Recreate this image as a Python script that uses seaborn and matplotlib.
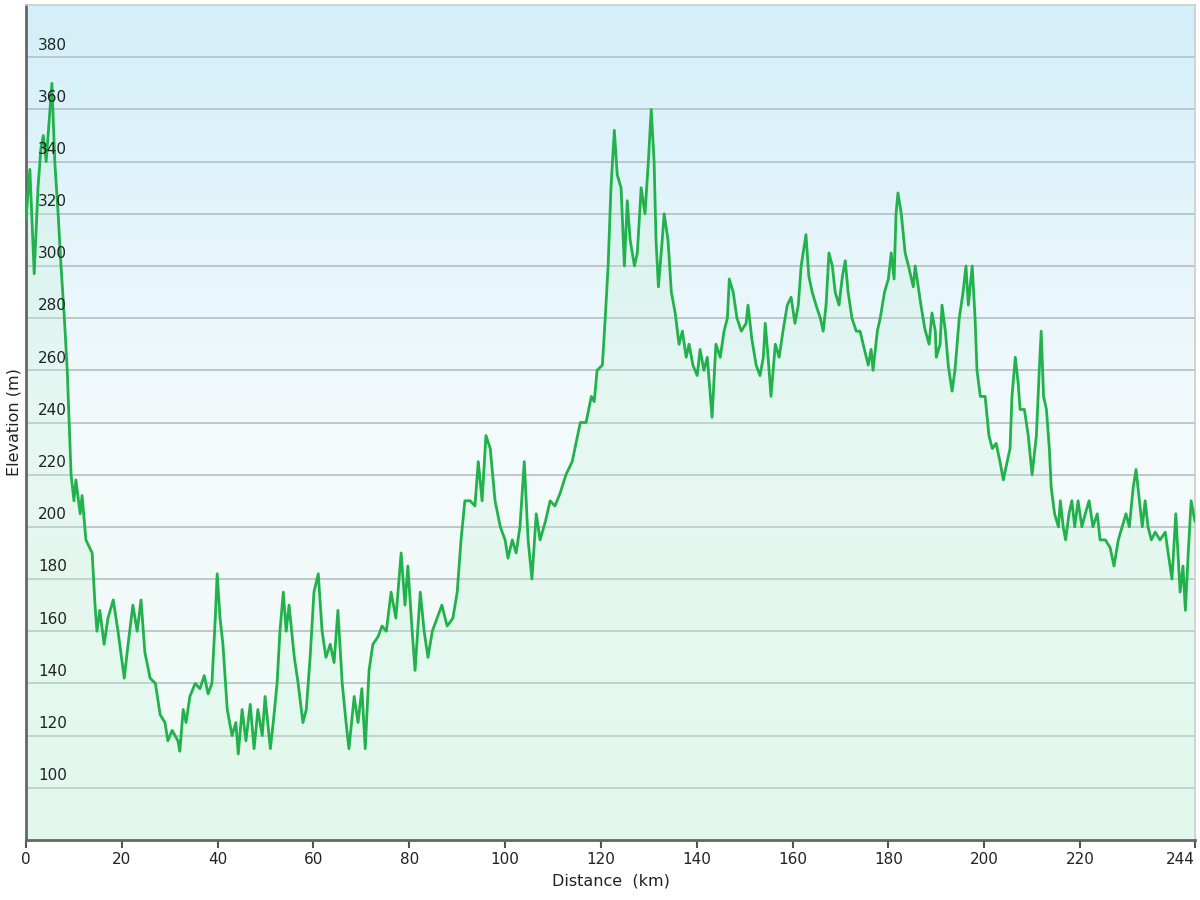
import numpy as np
import pandas as pd
import seaborn as sns
import matplotlib.pyplot as plt
from matplotlib.colors import LinearSegmentedColormap

# distance (km) and elevation (m)
dist = [0, 0.8, 1.7, 2.5, 3.1, 3.6, 4.2, 5.0, 5.4, 6.0, 6.7, 7.3, 8.0, 8.6, 9.0, 9.4,
        10.0, 10.4, 11.3, 11.7, 12.5, 13.8, 14.4, 14.8, 15.4, 16.3, 17.1, 18.2, 19.2,
        20.5, 21.3, 22.3, 23.2, 24.0, 24.8, 25.9, 27.0, 28.0, 29.0, 29.6, 30.5, 31.7,
        32.1, 32.8, 33.4, 34.2, 35.3, 36.3, 37.2, 38.0, 38.8, 39.5, 39.9, 40.5, 41.1,
        42.0, 43.0, 43.8, 44.3, 45.1, 45.9, 46.8, 47.6, 48.4, 49.3, 49.9, 51.0, 51.6,
        52.4, 53.0, 53.7, 54.3, 54.9, 56.0, 56.8, 57.8, 58.5, 59.3, 60.1, 61.0, 61.8,
        62.6, 63.5, 64.3, 65.1, 66.0, 66.8, 67.4, 68.5, 69.3, 70.1, 70.8, 71.6, 72.4,
        73.5, 74.3, 75.2, 76.2, 77.2, 78.3, 79.1, 79.7, 80.6, 81.2, 82.3, 83.1, 83.9,
        84.8, 85.8, 86.8, 87.9, 89.1, 90.0, 90.8, 91.6, 92.7, 93.7, 94.4, 95.2, 96.0,
        96.9, 97.9, 99.0, 100.0, 100.6, 101.5, 102.3, 103.1, 104.0, 104.8, 105.6, 106.5,
        107.3, 108.4, 109.4, 110.4, 111.5, 112.7, 114.0, 114.8, 115.7, 116.9, 118.0,
        118.6, 119.2, 120.3, 120.9, 121.5, 122.1, 122.8, 123.4, 124.2, 124.9, 125.5,
        126.1, 127.0, 127.6, 128.4, 129.2, 129.9, 130.5, 131.1, 131.5, 132.0, 132.8,
        133.2, 134.0, 134.7, 135.5, 136.3, 137.0, 137.8, 138.4, 139.2, 140.1, 140.7,
        141.5, 142.2, 143.2, 144.0, 144.9, 145.7, 146.4, 146.8, 147.6, 148.4, 149.3,
        150.3, 150.7, 151.5, 152.4, 153.2, 153.9, 154.3, 154.9, 155.5, 156.4, 157.2,
        158.0, 158.9, 159.7, 160.5, 161.2, 161.8, 162.8, 163.4, 164.1, 164.9, 165.8,
        166.4, 167.0, 167.6, 168.3, 168.9, 169.7, 170.4, 171.0, 171.6, 172.4, 173.3,
        174.1, 175.0, 175.8, 176.4, 176.8, 177.7, 178.3, 179.2, 180.0, 180.6, 181.2,
        181.6, 182.0, 182.7, 183.5, 184.2, 185.2, 185.6, 186.8, 187.6, 188.5, 189.1,
        189.8, 190.0, 190.8, 191.2, 191.9, 192.5, 193.3, 193.9, 194.8, 195.6, 196.2,
        196.7, 197.5, 198.1, 198.5, 199.2, 200.2, 201.0, 201.7, 202.5, 203.3, 204.0,
        204.8, 205.4, 205.8, 206.5, 207.1, 207.5, 208.4, 209.2, 210.0, 210.9, 211.5,
        211.9, 212.4, 213.0, 213.6, 214.0, 214.7, 215.5, 215.9, 216.5, 217.0, 217.7,
        218.3, 218.9, 219.6, 220.4, 221.1, 221.9, 222.7, 223.6, 224.2, 225.3, 226.3,
        227.1, 228.0, 228.8, 229.6, 230.3, 231.1, 231.7, 232.4, 233.0, 233.6, 234.2,
        234.9, 235.7, 236.7, 237.8, 238.4, 239.2, 240.0, 240.9, 241.5, 242.0, 242.6,
        243.2, 244.0]
elev = [318, 337, 297, 330, 345, 350, 340, 360, 370, 340, 320, 300, 280, 260, 240, 220,
        210, 218, 205, 212, 195, 190, 170, 160, 168, 155, 165, 172, 160,
        142, 155, 170, 160, 172, 152, 142, 140, 128, 125, 118, 122, 118,
        114, 130, 125, 135, 140, 138, 143, 136, 140, 165, 182, 165, 155,
        130, 120, 125, 113, 130, 118, 132, 115, 130, 120, 135, 115, 125,
        140, 160, 175, 160, 170, 150, 140, 125, 130, 150, 175, 182, 160,
        150, 155, 148, 168, 140, 125, 115, 135, 125, 138, 115, 145, 155,
        158, 162, 160, 175, 165, 190, 170, 185, 160, 145, 175, 160, 150,
        160, 165, 170, 162, 165, 175, 195, 210, 210, 208, 225, 210, 235,
        230, 210, 200, 195, 188, 195, 190, 200, 225, 195, 180, 205,
        195, 202, 210, 208, 213, 220, 225, 232, 240, 240, 250,
        248, 260, 262, 280, 300, 330, 352, 335, 330, 300, 325,
        310, 300, 305, 330, 320, 340, 360, 340, 310, 292, 310,
        320, 310, 290, 282, 270, 275, 265, 270, 262, 258, 268,
        260, 265, 242, 270, 265, 275, 280, 295, 290, 280, 275,
        278, 285, 272, 262, 258, 265, 278, 265, 250, 270, 265,
        275, 285, 288, 278, 285, 300, 312, 296, 290, 285, 280,
        275, 285, 305, 300, 290, 285, 296, 302, 290, 280, 275,
        275, 268, 262, 268, 260, 275, 280, 290, 295, 305, 295,
        320, 328, 320, 305, 300, 292, 300, 285, 276, 270, 282,
        275, 265, 270, 285, 275, 262, 252, 260, 280, 290, 300,
        285, 300, 280, 260, 250, 250, 235, 230, 232, 225, 218,
        225, 230, 250, 265, 255, 245, 245, 235, 220, 235, 260,
        275, 250, 245, 230, 215, 205, 200, 210, 200, 195, 205,
        210, 200, 210, 200, 205, 210, 200, 205, 195, 195, 192,
        185, 195, 200, 205, 200, 215, 222, 210, 200, 210, 200,
        195, 198, 195, 198, 190, 180, 205, 175, 185, 168, 190,
        210, 202]

y_ticks = list(range(100, 381, 20))
x_ticks = [0, 20, 40, 60, 80, 100, 120, 140, 160, 180, 200, 220, 244]

df = pd.DataFrame({"Distance": dist, "Elevation": elev})

sns.set_style("white")
plt.rcParams['font.family'] = ['Verdana', 'DejaVu Sans']

fig = plt.figure(figsize=(12, 9), dpi=100)
ax = fig.add_axes([0.0217, 0.0667, 0.9741, 0.9277])

xmin, xmax, ymin, ymax = 0, 244, 80, 400

# background gradient, light blue at the top to pale mint at the bottom
bg = LinearSegmentedColormap.from_list(
    "bg", ["#effcf5", "#f3fafc", "#d3eff9"])
ax.imshow(np.linspace(0, 1, 256).reshape(-1, 1), cmap=bg, origin="lower",
          extent=[xmin, xmax, ymin, ymax], aspect="auto", zorder=0)

for yt in y_ticks:
    ax.axhline(yt, color="#b5bfc3", lw=1.2, zorder=1)
    ax.text(2.5, yt + 1.8, str(yt), fontsize=11, color="#222222",
            ha="left", va="bottom", zorder=4)

ax.fill_between(df["Distance"], df["Elevation"], ymin, color="#c4f2d8",
                alpha=0.28, lw=0, zorder=2)
sns.lineplot(data=df, x="Distance", y="Elevation", ax=ax, color="#22b24c",
             lw=2.0, zorder=3)

ax.set_xlim(xmin, xmax)
ax.set_ylim(ymin, ymax)
ax.set_xticks(x_ticks)
ax.set_xticklabels([str(t) for t in x_ticks], fontsize=11, color="#222222")
ax.get_xticklabels()[-1].set_ha("right")
ax.set_yticks([])
ax.tick_params(axis="x", direction="out", length=6, width=1.5,
               color="#555555", pad=3, bottom=True)

ax.set_xlabel("Distance  (km)", fontsize=11.5, color="#222222", labelpad=4)
ax.set_ylabel("Elevation (m)", fontsize=11.5, color="#222222", labelpad=3)

for side in ["left", "bottom"]:
    ax.spines[side].set_color("#666666")
    ax.spines[side].set_linewidth(2)
for side in ["top", "right"]:
    ax.spines[side].set_color("#cccccc")
    ax.spines[side].set_linewidth(1.2)

fig.savefig("out.png", dpi=100)
